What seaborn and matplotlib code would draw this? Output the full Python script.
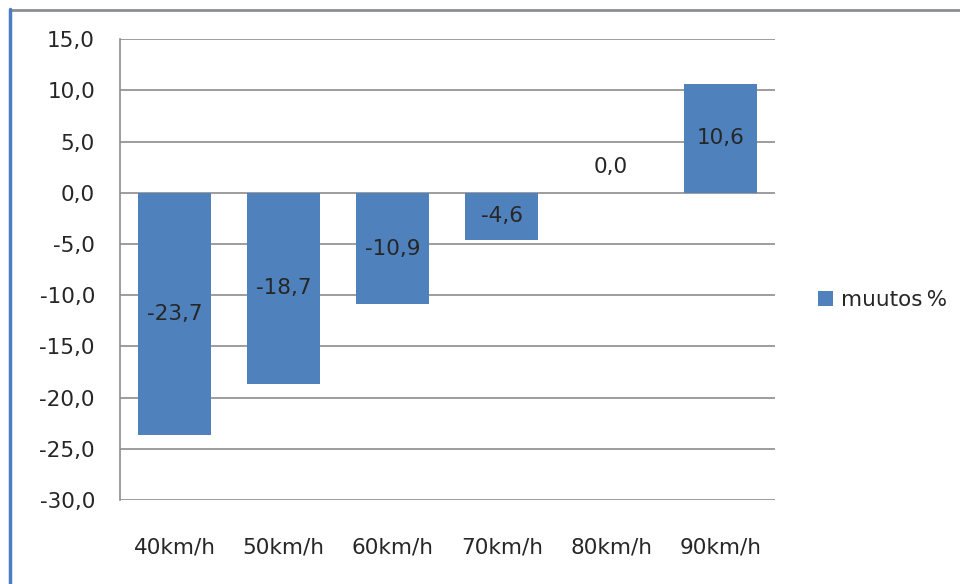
import matplotlib
matplotlib.use("Agg")
import matplotlib.pyplot as plt
import seaborn as sns
import pandas as pd
from matplotlib.lines import Line2D
from matplotlib.patches import Patch

categories = ["40km/h", "50km/h", "60km/h", "70km/h", "80km/h", "90km/h"]
values = [-23.7, -18.7, -10.9, -4.6, 0.0, 10.6]
series_name = "muutos\u2009%"
y_ticks = [15.0, 10.0, 5.0, 0.0, -5.0, -10.0, -15.0, -20.0, -25.0, -30.0]

df = pd.DataFrame({"nopeus": categories, "muutos": values})

sns.set_theme(style="white")
plt.rcParams["font.family"] = ["DejaVu Sans"]

bar_color = "#4F81BD"
grid_color = "#8c8c8c"
text_color = "#262626"

fig = plt.figure(figsize=(9.6, 5.84), dpi=100)
ax = fig.add_axes([0.125, 0.144, 0.682, 0.789])

sns.barplot(data=df, x="nopeus", y="muutos", color=bar_color, width=0.67,
            saturation=1, linewidth=0, edgecolor="none", ax=ax, zorder=3)

ax.set_ylim(-30, 15)
ax.set_yticks(y_ticks)
ax.set_yticklabels([f"{v:.1f}".replace(".", ",") for v in y_ticks],
                   fontsize=15.5, color=text_color)
ax.tick_params(axis="x", labelsize=15.5, labelcolor=text_color, length=0, pad=27)
ax.tick_params(axis="y", length=0, pad=18)
for lbl in ax.get_yticklabels():
    lbl.set_horizontalalignment("right")

ax.yaxis.grid(True, color=grid_color, linewidth=1.2, zorder=0)
ax.set_axisbelow(True)
ax.set_xlabel("")
ax.set_ylabel("")
for side in ["top", "right", "bottom"]:
    ax.spines[side].set_visible(False)
ax.spines["left"].set_color(grid_color)
ax.spines["left"].set_linewidth(1.2)

# data labels in the middle of each bar
for i, v in enumerate(values):
    ypos = v / 2 if v != 0 else 2.5
    ax.text(i, ypos, f"{v:.1f}".replace(".", ","), ha="center", va="center",
            fontsize=15.5, color=text_color, zorder=4)

handle = Patch(facecolor=bar_color, edgecolor="none")
ax.legend([handle], [series_name], loc="center left", bbox_to_anchor=(1.036, 0.434),
          frameon=False, fontsize=15.5, handlelength=0.7, handleheight=0.7,
          handletextpad=0.4, labelcolor=text_color)

# outer frame edges
fig.add_artist(Line2D([0.0105, 1.0], [1 - 10 / 584, 1 - 10 / 584],
                      transform=fig.transFigure, color="#8a8d92", linewidth=2))
fig.add_artist(Line2D([10 / 960, 10 / 960], [0.0, 1 - 9 / 584],
                      transform=fig.transFigure, color="#4a7ec0", linewidth=2.5))

fig.savefig("out.png", dpi=100, facecolor="white")
